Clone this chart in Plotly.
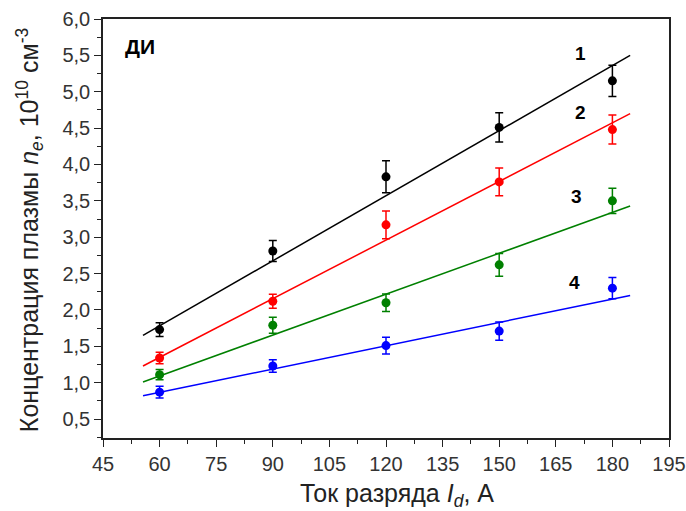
import plotly.graph_objects as go

# Discharge current, A
current = [60, 90, 120, 150, 180]

# Plasma density, 10^10 cm^-3, with error half-widths
n1 = [1.73, 2.81, 3.83, 4.51, 5.15]
e1 = [0.095, 0.145, 0.22, 0.20, 0.215]
n2 = [1.34, 2.12, 3.17, 3.76, 4.48]
e2 = [0.08, 0.095, 0.19, 0.19, 0.20]
n3 = [1.11, 1.79, 2.10, 2.62, 3.50]
e3 = [0.07, 0.11, 0.12, 0.155, 0.175]
n4 = [0.87, 1.23, 1.51, 1.71, 2.30]
e4 = [0.08, 0.085, 0.115, 0.125, 0.145]

# Linear fit lines: current span and density at the ends
fit_x = [55.6, 184.7]
fit1 = [1.65, 5.50]
fit2 = [1.23, 4.70]
fit3 = [1.01, 3.43]
fit4 = [0.82, 2.20]

curve_labels = ["1", "2", "3", "4"]
label_x = [171.5, 171.5, 170.5, 170.0]
label_y = [5.53, 4.72, 3.56, 2.38]

colors = ["black", "#ff0000", "#008000", "#0000ff"]

series = [(n1, e1, fit1), (n2, e2, fit2), (n3, e3, fit3), (n4, e4, fit4)]

fig = go.Figure()
for (vals, errs, fit), col in zip(series, colors):
    fig.add_trace(go.Scatter(
        x=fit_x, y=fit, mode="lines",
        line=dict(color=col, width=1.5), showlegend=False, hoverinfo="skip"))
    fig.add_trace(go.Scatter(
        x=current, y=vals, mode="markers",
        marker=dict(color=col, size=9),
        error_y=dict(type="data", array=errs, visible=True,
                     color=col, thickness=1.5, width=4),
        showlegend=False))

font_family = "Liberation Sans, Arial, sans-serif"

for t, lx, ly in zip(curve_labels, label_x, label_y):
    fig.add_annotation(x=lx, y=ly, text=f"<b>{t}</b>", showarrow=False,
                       font=dict(size=19, color="black", family=font_family))

fig.add_annotation(xref="paper", yref="paper", x=0.035, y=0.935,
                   xanchor="left", yanchor="middle",
                   text="<b>ДИ</b>", showarrow=False,
                   font=dict(size=21, color="black", family=font_family))

# Axis titles
fig.add_annotation(xref="paper", yref="paper", x=0.519, y=-0.136,
                   xanchor="center", yanchor="middle", showarrow=False,
                   text="Ток разряда <i>I</i><sub><i>d</i></sub>, А",
                   font=dict(size=25, color="#222", family=font_family))
fig.add_annotation(xref="paper", yref="paper", x=-0.13, y=0.497,
                   xanchor="center", yanchor="middle", showarrow=False,
                   textangle=-90,
                   text="Концентрация плазмы <i>n</i><sub><i>e</i></sub>, 10<sup>10</sup> см<sup>-3</sup>",
                   font=dict(size=25, color="#222", family=font_family))

axis_common = dict(
    showgrid=False, zeroline=False, showline=True, linecolor="#222",
    linewidth=1.5, mirror=True, ticks="outside", ticklen=7, tickwidth=1.3,
    tickcolor="#222", tickfont=dict(size=20, color="#333", family=font_family),
    automargin=False,
)

fig.update_xaxes(range=[45, 195], tick0=45, dtick=15,
                 minor=dict(ticks="outside", ticklen=4, dtick=7.5,
                            tickcolor="#222", tickwidth=1.2),
                 **axis_common)
fig.update_yaxes(range=[0.24, 6.0], tick0=0.5, dtick=0.5, tickformat=".1f",
                 minor=dict(ticks="outside", ticklen=4, dtick=0.25,
                            tick0=0.25, tickcolor="#222", tickwidth=1.2),
                 **axis_common)

fig.update_layout(
    width=686, height=511,
    margin=dict(l=103, r=17, t=19, b=73),
    plot_bgcolor="white", paper_bgcolor="white",
    separators=", ",
)

fig.write_html("out.html")
